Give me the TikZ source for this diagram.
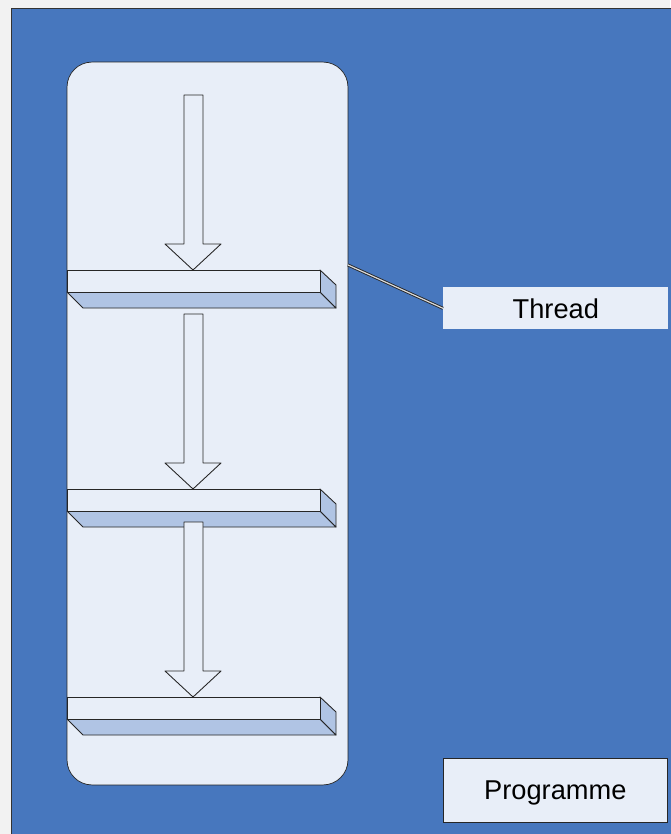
\documentclass[tikz,border=0pt]{standalone}
\usepackage{fontspec}
\setmainfont{Liberation Sans}
\definecolor{bgblue}{RGB}{71,119,190}
\definecolor{paleblue}{RGB}{232,238,248}
\definecolor{slabblue}{RGB}{176,196,228}
\begin{document}
\begin{tikzpicture}[x=0.02cm,y=-0.02cm]
	\tikzstyle{label box} = [fill=paleblue, font=\fontsize{15.5}{18}\selectfont, inner sep=0pt, anchor=north west]
	\tikzstyle{slab line} = [draw=black!85, line width=0.5pt, line join=round]
	\useasboundingbox (0,0) rectangle (670,834);
	\fill[black!5] (0,0) rectangle (670,834);
	\draw[fill=bgblue, draw=black!80] (11,8) rectangle (675,840);
	% the process column
	\node[draw=black!85, fill=paleblue, rounded corners=0.5cm, minimum width=5.62cm, minimum height=14.46cm] (column) at (207.5,423.5) {};
	% thread slabs
	\foreach \y in {270,489,697} {
		\path[slab line, fill=slabblue] (67,\y+22) -- (320,\y+22) -- (336,\y+38) -- (83,\y+38) -- cycle;
		\path[slab line, fill=slabblue] (320,\y) -- (336,\y+15) -- (336,\y+38) -- (320,\y+22) -- cycle;
		\path[slab line, fill=paleblue] (67,\y) rectangle (320,\y+22);
	}
	% block arrows
	\foreach \t/\b in {95/270, 314/489, 522/697} {
		\path[slab line, fill=paleblue] (184,\t) -- (203,\t) -- (203,\b-26) -- (221,\b-26) -- (193,\b) -- (165,\b-26) -- (184,\b-26) -- cycle;
	}
	\node[label box, minimum width=4.5cm, minimum height=0.84cm] (thread) at (443,287) {Thread};
	\node[label box, draw=black!85, minimum width=4.48cm, minimum height=1.28cm, text depth=-2pt] (programme) at (443,758) {Programme};
	\coordinate (edge) at (348,265);
	\draw[draw=black!85, line width=0.5pt, double=white!85!black, double distance=0.7pt] (edge) -- (thread.west);
\end{tikzpicture}
\end{document}
